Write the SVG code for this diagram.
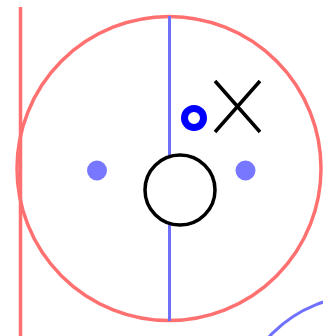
<svg xmlns="http://www.w3.org/2000/svg" width="323" height="336" viewBox="0 0 323 336">
<style>
.red{fill:none;stroke:#ff7070;stroke-width:3.5}
.blue{fill:none;stroke:#7070ff;stroke-width:3}
.dot{fill:#7777ff}
</style>
<rect width="323" height="336" fill="#fff"/>
<g id="lines">
<line class="red" x1="20.5" y1="7" x2="20.5" y2="336"/>
<circle id="center-circle" class="red" cx="169" cy="168.5" r="152"/>
<circle id="corner-arc" class="blue" cx="362" cy="422" r="126"/>
<line class="blue" x1="169.5" y1="16" x2="169.5" y2="321"/>
</g>
<g id="dot-left"><circle class="dot" cx="97" cy="170.5" r="10"/></g>
<g id="dot-right"><circle class="dot" cx="245.5" cy="170.5" r="10"/></g>
<g id="puck-circle"><circle cx="180" cy="190" r="35" fill="#fff" stroke="#000" stroke-width="3.5"/></g>
<g id="ring"><circle cx="194" cy="118" r="9.5" fill="none" stroke="#0000ff" stroke-width="7"/></g>
<g id="cross"><path d="M215,81 L260,132 M260,81 L215,132" stroke="#000" stroke-width="3.5" fill="none"/></g>
</svg>
